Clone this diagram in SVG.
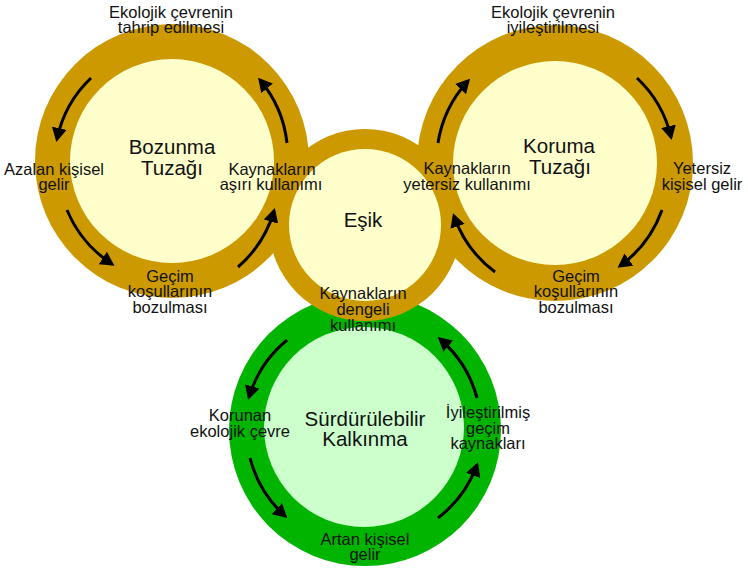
<svg xmlns="http://www.w3.org/2000/svg" width="748" height="571" viewBox="0 0 748 571">
<style>
.ring{fill:#CC9900}
.ringg{fill:#00B400}
.core{fill:#FFFFCC}
.coreg{fill:#CCFFCC}
text{font-family:"Liberation Sans",Arial,sans-serif;fill:#111;text-anchor:middle}
.s{font-size:16.5px}
.b{font-size:20.5px}
.arr{fill:none;stroke:#000;stroke-width:3;marker-end:url(#ah)}
</style>
<defs>
<marker id="ah" markerUnits="userSpaceOnUse" viewBox="0 0 14 15" markerWidth="14" markerHeight="15" refX="11" refY="7.5" orient="auto">
<path d="M0,0 L14,7.5 L0,15 Z" fill="#000"/>
</marker>
</defs>
<g id="outers">
<circle class="ring" cx="172" cy="161" r="137"/>
<circle class="ring" cx="555" cy="163" r="138"/>
<circle class="ringg" cx="365" cy="430" r="136"/>
<circle class="ring" cx="365" cy="225" r="96"/>
</g>
<g id="bozunma">
<circle class="core" cx="172" cy="161" r="102"/>
<text class="b" x="172" y="154">Bozunma</text>
<text class="b" x="172" y="175">Tuzağı</text>
</g>
<g id="koruma">
<circle class="core" cx="555" cy="163" r="102"/>
<text class="b" x="559" y="153">Koruma</text>
<text class="b" x="560" y="174">Tuzağı</text>
</g>
<g id="surdurulebilir">
<circle class="coreg" cx="364" cy="427" r="100"/>
<text class="b" x="365" y="426">Sürdürülebilir</text>
<text class="b" x="365" y="446">Kalkınma</text>
</g>
<g id="esik">
<circle class="core" cx="365" cy="225" r="76"/>
<text class="b" x="363" y="227">Eşik</text>
</g>
<g id="connectors">
<path class="arr" d="M91,78 A118,118 0 0 0 57,139"/>
<path class="arr" d="M67,210 A118,118 0 0 0 112,264"/>
<path class="arr" d="M238,267 A118,118 0 0 0 274,211"/>
<path class="arr" d="M287,143 A118,118 0 0 0 260,80"/>
<path class="arr" d="M438,143 A118,118 0 0 1 468,81"/>
<path class="arr" d="M637,78 A118,118 0 0 1 671,137"/>
<path class="arr" d="M662,210 A118,118 0 0 1 620,266"/>
<path class="arr" d="M495,272 A118,118 0 0 1 454,216"/>
<path class="arr" d="M287,340 A118,118 0 0 0 249,397"/>
<path class="arr" d="M250,458 A118,118 0 0 0 285,516"/>
<path class="arr" d="M438,518 A118,118 0 0 0 477,465"/>
<path class="arr" d="M477,398 A118,118 0 0 0 440,339"/>
</g>
<g id="labels">
<g id="l-tahrip"><text class="s" x="171" y="18">Ekolojik çevrenin</text><text class="s" x="171" y="33">tahrip edilmesi</text></g>
<g id="l-azalan"><text class="s" x="54" y="175">Azalan kişisel</text><text class="s" x="54" y="190">gelir</text></g>
<g id="l-gecim1"><text class="s" x="170" y="282">Geçim</text><text class="s" x="170" y="297">koşullarının</text><text class="s" x="170" y="313">bozulması</text></g>
<g id="l-asiri"><text class="s" x="272" y="175">Kaynakların</text><text class="s" x="271" y="190">aşırı kullanımı</text></g>
<g id="l-iyiles"><text class="s" x="553" y="18">Ekolojik çevrenin</text><text class="s" x="553" y="33">iyileştirilmesi</text></g>
<g id="l-yetersizk"><text class="s" x="467" y="174">Kaynakların</text><text class="s" x="467" y="190">yetersiz kullanımı</text></g>
<g id="l-yetersizg"><text class="s" x="702" y="174">Yetersiz</text><text class="s" x="702" y="190">kişisel gelir</text></g>
<g id="l-gecim2"><text class="s" x="576" y="282">Geçim</text><text class="s" x="576" y="297">koşullarının</text><text class="s" x="576" y="313">bozulması</text></g>
<g id="l-dengeli"><text class="s" x="363" y="299">Kaynakların</text><text class="s" x="363" y="315">dengeli</text><text class="s" x="363" y="331">kullanımı</text></g>
<g id="l-korunan"><text class="s" x="240" y="421">Korunan</text><text class="s" x="240" y="437">ekolojik çevre</text></g>
<g id="l-iyilesgecim"><text class="s" x="488" y="418">İyileştirilmiş</text><text class="s" x="488" y="434">geçim</text><text class="s" x="488" y="449">kaynakları</text></g>
<g id="l-artan"><text class="s" x="365" y="545">Artan kişisel</text><text class="s" x="365" y="560">gelir</text></g>
</g>
</svg>
